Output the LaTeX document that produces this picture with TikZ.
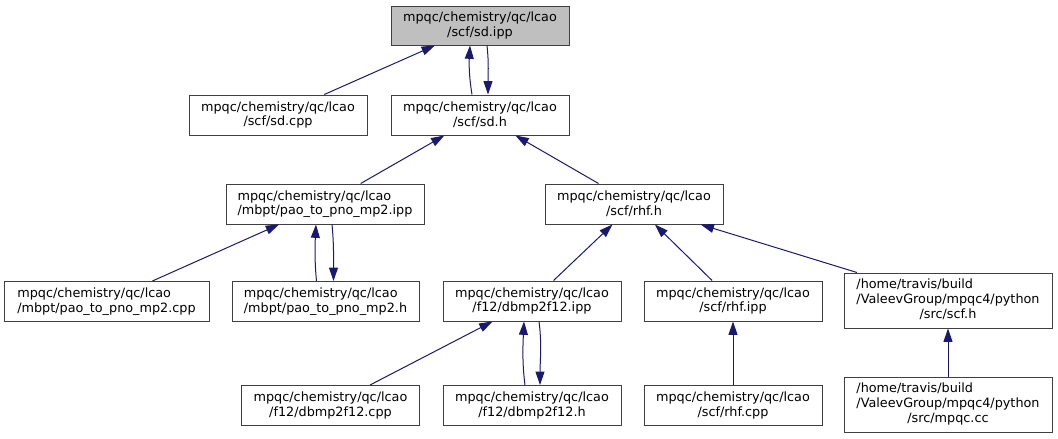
\documentclass[tikz,border=0pt]{standalone}
\usepackage{fontspec}
\setmainfont{DejaVu Sans}
\usetikzlibrary{arrows.meta,calc}
\definecolor{edgeblue}{HTML}{191970}
\definecolor{boxgray}{HTML}{BFBFBF}
\definecolor{boxline}{HTML}{404040}
\tikzset{
  filebox/.style={draw=boxline, line width=0.75pt, fill=white, inner sep=0pt,
    minimum height=30pt, minimum width=133.5pt, align=center,
    font=\fontsize{9.6}{11}\selectfont},
  tallbox/.style={filebox, minimum width=156pt, minimum height=41.25pt},
  arr/.style={draw=edgeblue, line width=0.75pt, -{Triangle[length=10pt,width=6.7pt]}},
}
\begin{document}
\begin{tikzpicture}[x=0.75pt,y=-0.75pt]
\useasboundingbox (0,0) rectangle (1058,439);
% row 1
\node[filebox, fill=boxgray, minimum height=29.25pt] (sdipp) at (480,25.5) {mpqc/chemistry/qc/lcao\\/scf/sd.ipp};
% row 2
\node[filebox] (sdcpp) at (278,115) {mpqc/chemistry/qc/lcao\\/scf/sd.cpp};
\node[filebox] (sdh) at (480,115) {mpqc/chemistry/qc/lcao\\/scf/sd.h};
% row 3
\node[filebox, minimum width=148.5pt, align=left] (paoipp) at (325,204) {mpqc/chemistry/qc/lcao\\/mbpt/pao\_to\_pno\_mp2.ipp};
\node[filebox] (rhfh) at (634,204) {mpqc/chemistry/qc/lcao\\/scf/rhf.h};
% row 4
\node[filebox, minimum width=153.75pt, align=left] (paocpp) at (106.5,301.5) {mpqc/chemistry/qc/lcao\\/mbpt/pao\_to\_pno\_mp2.cpp};
\node[filebox, minimum width=140.25pt, align=left] (paoh) at (325.5,301.5) {mpqc/chemistry/qc/lcao\\/mbpt/pao\_to\_pno\_mp2.h};
\node[filebox] (dbipp) at (532,301) {mpqc/chemistry/qc/lcao\\/f12/dbmp2f12.ipp};
\node[filebox] (rhfipp) at (733,301) {mpqc/chemistry/qc/lcao\\/scf/rhf.ipp};
\node[tallbox] (scfh) at (948,300.5) {\begin{tabular}{@{}l@{}}/home/travis/build\\/ValeevGroup/mpqc4/python\\\multicolumn{1}{@{}c@{}}{/src/scf.h}\end{tabular}};
% row 5
\node[filebox] (dbcpp) at (330.5,405.5) {mpqc/chemistry/qc/lcao\\/f12/dbmp2f12.cpp};
\node[filebox] (dbh) at (532,405.5) {mpqc/chemistry/qc/lcao\\/f12/dbmp2f12.h};
\node[filebox] (rhfcpp) at (733,405.5) {mpqc/chemistry/qc/lcao\\/scf/rhf.cpp};
\node[tallbox] (mpqccc) at (948,404.5) {\begin{tabular}{@{}l@{}}/home/travis/build\\/ValeevGroup/mpqc4/python\\\multicolumn{1}{@{}c@{}}{/src/mpqc.cc}\end{tabular}};
% edges
\draw[arr] (sdcpp) -- (sdipp);
\draw[arr] ($(sdh.north)+(-8,0)$) .. controls +(-3,-18) and +(-1,18) .. ($(sdipp.south)+(-10,0)$);
\draw[arr] ($(sdipp.south)+(7,0)$) .. controls +(2,18) and +(0,-18) .. ($(sdh.north)+(8,0)$);
\draw[arr] (paoipp) -- (sdh);
\draw[arr] (rhfh) -- (sdh);
\draw[arr] (paocpp) -- (paoipp);
\draw[arr] ($(paoh.north)+(-9,0)$) .. controls +(-2,-20) and +(-1,20) .. ($(paoipp.south)+(-9,0)$);
\draw[arr] ($(paoipp.south)+(7,0)$) .. controls +(2,20) and +(0,-20) .. ($(paoh.north)+(8,0)$);
\draw[arr] (dbipp) -- (rhfh);
\draw[arr] (rhfipp) -- (rhfh);
\draw[arr] (scfh) -- (rhfh);
\draw[arr] (dbcpp) -- (dbipp);
\draw[arr] ($(dbh.north)+(-7,0)$) .. controls +(-3,-22) and +(-1,22) .. ($(dbipp.south)+(-8,0)$);
\draw[arr] ($(dbipp.south)+(7,0)$) .. controls +(3,22) and +(0,-22) .. ($(dbh.north)+(8,0)$);
\draw[arr] (rhfcpp) -- (rhfipp);
\draw[arr] (mpqccc) -- (scfh);
\end{tikzpicture}
\end{document}
